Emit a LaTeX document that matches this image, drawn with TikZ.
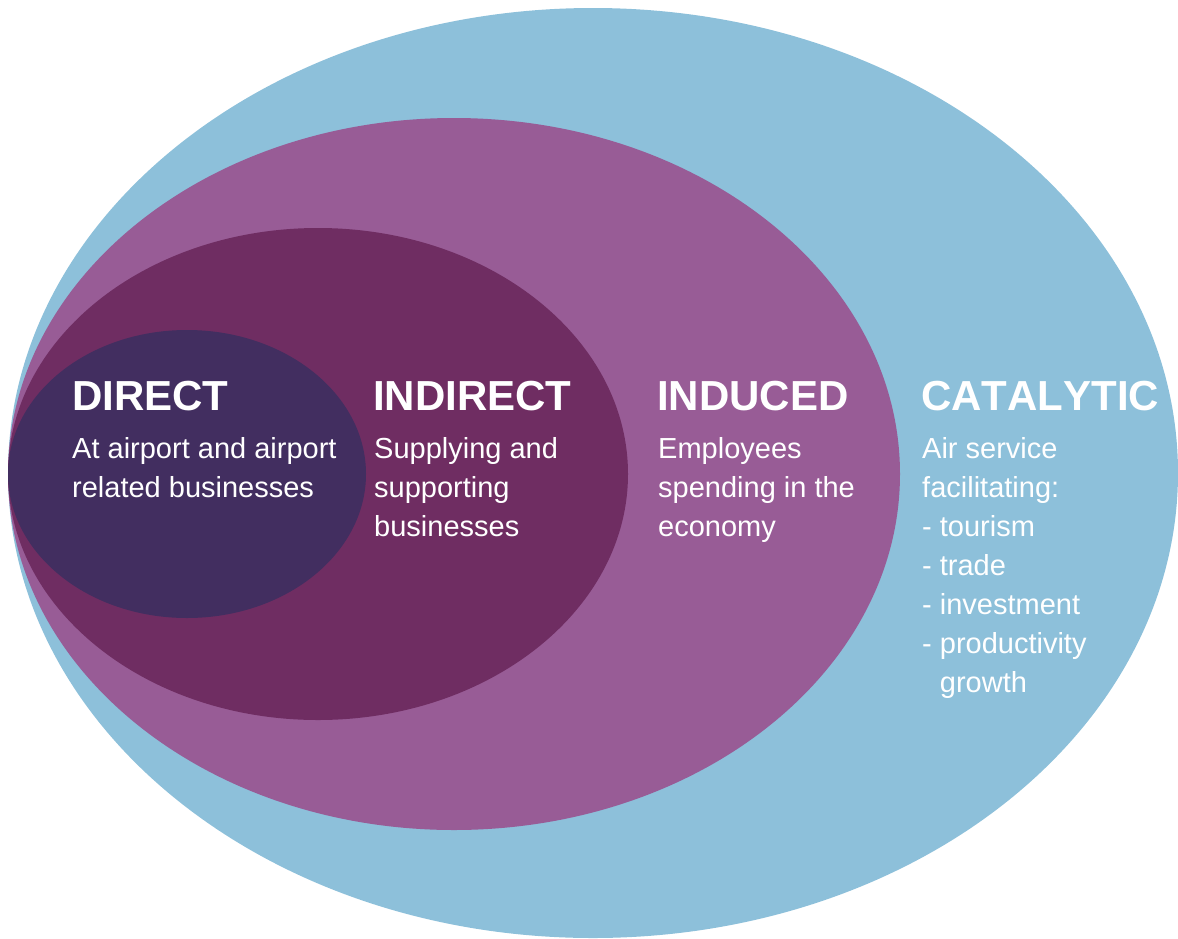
\documentclass[tikz,border=0pt]{standalone}
\usepackage{fontspec}
\setmainfont{Liberation Sans}[Kerning=Off]
\usepackage{tikz}
\definecolor{catblue}{RGB}{141,192,218}
\definecolor{indpurple}{RGB}{152,92,150}
\definecolor{indirpurple}{RGB}{111,45,98}
\definecolor{dirpurple}{RGB}{66,46,96}
\tikzset{
  head/.style={anchor=base west, inner sep=0pt, text=white, font=\fontsize{42}{50}\selectfont\bfseries},
  body/.style={anchor=north west, inner sep=0pt, text=white, align=left, font=\fontsize{29}{39}\selectfont}
}

\begin{document}
\begin{tikzpicture}[x=1pt, y=-1pt]
 \useasboundingbox (0,0) rectangle (1178,938);
 \fill[catblue] (593,473) ellipse [x radius=585, y radius=465];
 \fill[indpurple] (454,474) ellipse [x radius=446, y radius=356];
 \fill[indirpurple] (318,474) ellipse [x radius=310, y radius=246];
 \fill[dirpurple] (187,474) ellipse [x radius=179, y radius=144];
 \node[head] (direct) at (72,410) {DIRECT};
 \node[head] (indirect) at (373,410) {INDIRECT};
 \node[head] (induced) at (657,410) {INDUCED};
 \node[head] (catalytic) at (921,410) {CATALYTIC};
 \node[body] (directtxt) at (72,437) {At airport and airport\\related businesses};
 \node[body] (indirecttxt) at (374,437) {Supplying and\\supporting\\businesses};
 \node[body] (inducedtxt) at (658,437) {Employees\\spending in the\\economy};
 \node[body] (catalytictxt) at (922,437) {Air service\\facilitating:\\- tourism\\- trade\\- investment\\- productivity\\\phantom{- }growth};
\end{tikzpicture}
\end{document}
